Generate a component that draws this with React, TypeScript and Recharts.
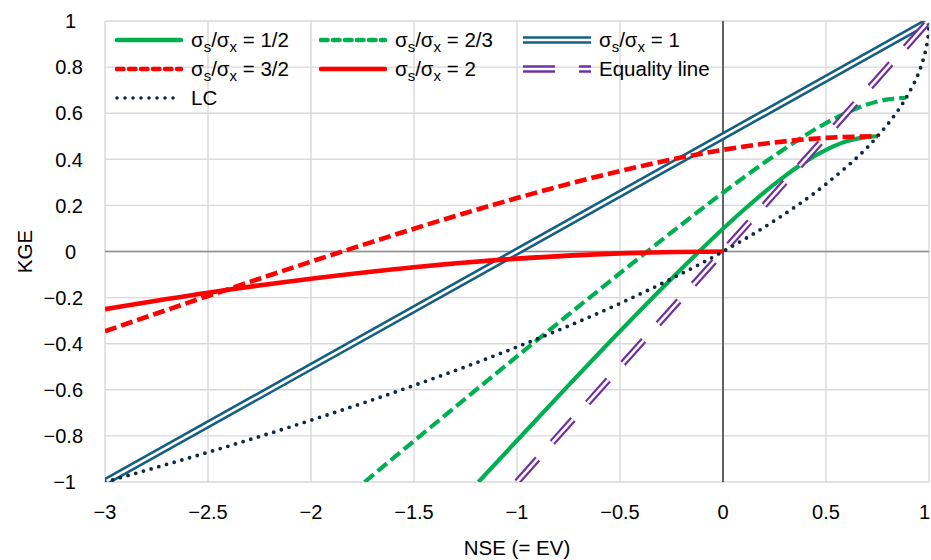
import { LineChart, Line, XAxis, YAxis, CartesianGrid, ReferenceLine, Legend } from 'recharts';

// KGE vs NSE for several variability ratios (no bias)
const X_TICKS = [-3, -2.5, -2, -1.5, -1, -0.5, 0, 0.5, 1];
const Y_TICKS = [-1, -0.8, -0.6, -0.4, -0.2, 0, 0.2, 0.4, 0.6, 0.8, 1];

const HALF_NSE = [-1.187, -1, -0.75, -0.5, -0.25, 0, 0.1, 0.2, 0.3, 0.4, 0.5, 0.6, 0.7, 0.75];
const HALF_KGE = [-1, -0.82, -0.581, -0.346, -0.118, 0.099, 0.18, 0.257, 0.327, 0.39, 0.441, 0.478, 0.4975, 0.5];

const TWO_THIRDS_NSE = [-1.74, -1.5, -1.25, -1, -0.75, -0.5, -0.25, 0, 0.2, 0.4, 0.5, 0.6, 0.7, 0.8, 0.889];
const TWO_THIRDS_KGE = [-1, -0.822, -0.638, -0.455, -0.274, -0.094, 0.083, 0.255, 0.385, 0.504, 0.557, 0.602, 0.638, 0.66, 0.667];

const ONE_NSE = [-3, 1];
const ONE_KGE = [-1, 1];

const THREE_HALVES_NSE = [-3, -2.75, -2.5, -2.25, -2, -1.75, -1.5, -1.25, -1, -0.75, -0.5, -0.25, 0, 0.25, 0.5, 0.75];
const THREE_HALVES_KGE = [-0.346, -0.269, -0.193, -0.118, -0.044, 0.028, 0.099, 0.167, 0.232, 0.293, 0.349, 0.399, 0.441, 0.473, 0.493, 0.5];

const TWO_NSE = [-3, -2.5, -2, -1.5, -1, -0.5, 0];
const TWO_KGE = [-0.25, -0.179, -0.118, -0.068, -0.031, -0.008, 0];

const EQUALITY_NSE = [-1, 1];
const EQUALITY_KGE = [-1, 1];

const LC_NSE = [-3, -2.5, -2, -1.5, -1, -0.5, -0.25, 0, 0.25, 0.5, 0.75, 0.84, 0.9, 0.96, 0.9775, 0.99, 0.9975, 1];
const LC_KGE = [-1, -0.871, -0.732, -0.581, -0.414, -0.225, -0.118, 0, 0.134, 0.293, 0.5, 0.6, 0.684, 0.8, 0.85, 0.9, 0.95, 1];

const GREEN = '#00B050';
const RED = '#FF0000';
const BLUE = '#156082';
const PURPLE = '#7030A0';
const NAVY = '#0E2841';

const pts = (xs: number[], ys: number[]) => xs.map((x, i) => ({ x, y: ys[i] }));
const fmt = (v: number) => (v < 0 ? '\u2212' + Math.abs(v) : String(v));

const FONT = '"Liberation Sans", Arial, sans-serif';

function XTick({ x, y, payload }: any) {
  // last label is pulled inside so it doesn't run past the edge
  const last = payload.value === X_TICKS[X_TICKS.length - 1];
  return (
    <text x={last ? x + 1 : x} y={y + 37} textAnchor={last ? 'end' : 'middle'} fontSize={20} fill="#000">
      {fmt(payload.value)}
    </text>
  );
}

function YTick({ x, y, payload }: any) {
  const s = fmt(payload.value);
  const right = s.includes('.') ? x - 22 : x - 29;
  return (
    <text x={right} y={y} dy="0.36em" textAnchor="end" fontSize={20} fill="#000">
      {s}
    </text>
  );
}

type Sample = { kind: 'solid' | 'dashed' | 'double' | 'doubleDash' | 'dotted'; color: string; label: string };

const LEGEND_ITEMS: Sample[] = [
  { kind: 'solid', color: GREEN, label: '1/2' },
  { kind: 'dashed', color: GREEN, label: '2/3' },
  { kind: 'double', color: BLUE, label: '1' },
  { kind: 'dashed', color: RED, label: '3/2' },
  { kind: 'solid', color: RED, label: '2' },
  { kind: 'doubleDash', color: PURPLE, label: 'Equality line' },
  { kind: 'dotted', color: NAVY, label: 'LC' },
];

function SampleLine({ kind, color }: Sample) {
  const y = 7;
  if (kind === 'double' || kind === 'doubleDash') {
    const dash = kind === 'doubleDash' ? '32 24' : undefined;
    return (
      <svg width={68} height={14}>
        <line x1={0} x2={68} y1={y} y2={y} stroke={color} strokeWidth={7.5} strokeDasharray={dash} />
        <line x1={0} x2={68} y1={y} y2={y} stroke="#fff" strokeWidth={2.6} strokeDasharray={dash} />
      </svg>
    );
  }
  if (kind === 'dotted') {
    return (
      <svg width={68} height={14}>
        <line x1={2} x2={66} y1={y} y2={y} stroke={color} strokeWidth={3.6} strokeDasharray="0 8" strokeLinecap="round" />
      </svg>
    );
  }
  return (
    <svg width={68} height={14}>
      <line x1={2} x2={66} y1={y} y2={y} stroke={color} strokeWidth={4.5} strokeLinecap="round"
        strokeDasharray={kind === 'dashed' ? '6.5 5.5' : undefined} />
    </svg>
  );
}

function LegendLabel({ label }: { label: string }) {
  if (label === 'Equality line' || label === 'LC') return <span>{label}</span>;
  const sub = { fontSize: 15, verticalAlign: '-5px', lineHeight: 0 } as const;
  return (
    <span>
      σ<span style={sub}>s</span>/σ<span style={sub}>x</span> = {label}
    </span>
  );
}

function renderLegend() {
  return (
    <div
      style={{
        display: 'grid',
        gridTemplateColumns: '204px 204px 204px',
        gridAutoRows: '29px',
        paddingLeft: 10,
        paddingTop: 4,
        fontSize: 20.5,
        color: '#000',
        fontFamily: FONT,
      }}
    >
      {LEGEND_ITEMS.map((it, i) => (
        <div key={i} style={{ display: 'flex', alignItems: 'center', whiteSpace: 'nowrap' }}>
          <SampleLine {...it} />
          <span style={{ marginLeft: 8 }}>
            <LegendLabel label={it.label} />
          </span>
        </div>
      ))}
    </div>
  );
}

export default function App() {
  return (
    <div style={{ position: 'absolute', left: 0, top: 0, width: 931, height: 560, background: '#fff', fontFamily: FONT }}>
      <LineChart width={931} height={560} margin={{ top: 21, right: 2, bottom: 0, left: 0 }}>
        <CartesianGrid stroke="#D9D9D9" strokeWidth={1.4} />
        <XAxis
          type="number"
          dataKey="x"
          domain={[-3, 1]}
          ticks={X_TICKS}
          height={78}
          axisLine={false}
          tickLine={false}
          tickSize={0}
          tickMargin={0}
          tick={<XTick />}
          interval={0}
          allowDataOverflow
          label={{ value: 'NSE (= EV)', position: 'insideBottom', offset: 5, fontSize: 20.5, fill: '#000' }}
        />
        <YAxis
          type="number"
          domain={[-1, 1]}
          ticks={Y_TICKS}
          width={105}
          axisLine={false}
          tickLine={false}
          tickSize={0}
          tickMargin={0}
          tick={<YTick />}
          interval={0}
          allowDataOverflow
          label={{
            value: 'KGE',
            angle: -90,
            position: 'insideLeft',
            offset: 25,
            fontSize: 20.5,
            fill: '#000',
            style: { textAnchor: 'middle' },
          }}
        />
        <ReferenceLine y={0} stroke="#8C8C8C" strokeWidth={1.6} />
        <ReferenceLine x={0} stroke="#404040" strokeWidth={1.6} />
        {/* middle/center alignment keeps the legend from shrinking the plot area */}
        <Legend
          content={renderLegend}
          layout="horizontal"
          align="center"
          verticalAlign="middle"
          wrapperStyle={{ left: 105, top: 21, width: 700, height: 90 }}
        />

        <Line data={pts(HALF_NSE, HALF_KGE)} dataKey="y" type="monotone" stroke={GREEN} strokeWidth={4.2}
          dot={false} activeDot={false} isAnimationActive={false} />
        <Line data={pts(TWO_THIRDS_NSE, TWO_THIRDS_KGE)} dataKey="y" type="monotone" stroke={GREEN} strokeWidth={4.2}
          strokeDasharray="12 5" dot={false} activeDot={false} isAnimationActive={false} />
        <Line data={pts(ONE_NSE, ONE_KGE)} dataKey="y" type="linear" stroke={BLUE} strokeWidth={7.8}
          dot={false} activeDot={false} isAnimationActive={false} />
        <Line data={pts(ONE_NSE, ONE_KGE)} dataKey="y" type="linear" stroke="#fff" strokeWidth={2.6}
          dot={false} activeDot={false} isAnimationActive={false} />
        <Line data={pts(THREE_HALVES_NSE, THREE_HALVES_KGE)} dataKey="y" type="monotone" stroke={RED} strokeWidth={4.6}
          strokeDasharray="12 5" dot={false} activeDot={false} isAnimationActive={false} />
        <Line data={pts(TWO_NSE, TWO_KGE)} dataKey="y" type="monotone" stroke={RED} strokeWidth={4.6}
          dot={false} activeDot={false} isAnimationActive={false} />
        <Line data={pts(EQUALITY_NSE, EQUALITY_KGE)} dataKey="y" type="linear" stroke={PURPLE} strokeWidth={7}
          strokeDasharray="31 22" dot={false} activeDot={false} isAnimationActive={false} />
        <Line data={pts(EQUALITY_NSE, EQUALITY_KGE)} dataKey="y" type="linear" stroke="#fff" strokeWidth={2.6}
          strokeDasharray="31 22" dot={false} activeDot={false} isAnimationActive={false} />
        <Line data={pts(LC_NSE, LC_KGE)} dataKey="y" type="monotone" stroke={NAVY} strokeWidth={3.8}
          strokeDasharray="0 8" strokeLinecap="round" dot={false} activeDot={false} isAnimationActive={false} />
      </LineChart>
    </div>
  );
}
